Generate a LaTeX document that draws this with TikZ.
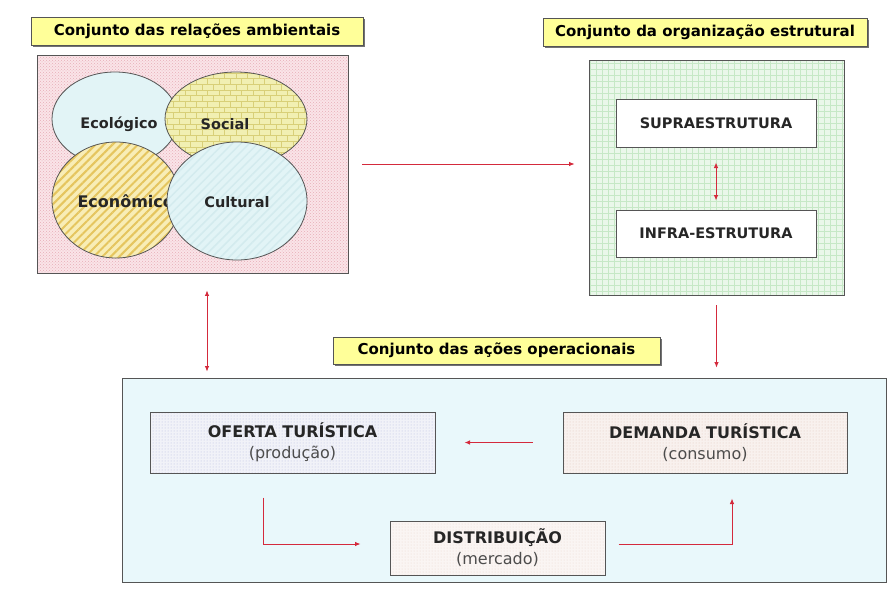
\documentclass[tikz,border=0pt]{standalone}
\usepackage{fontspec}
\setmainfont{DejaVu Sans}
\usetikzlibrary{positioning,shapes.geometric,arrows.meta,shadows,patterns,patterns.meta}
\definecolor{tyellow}{HTML}{FFFF99}
\definecolor{ambpink}{HTML}{FAE4E8}
\definecolor{ambdot}{HTML}{E7AEB8}
\definecolor{estgreen}{HTML}{EAF7EA}
\definecolor{gridgreen}{HTML}{C6E8C6}
\definecolor{opblue}{HTML}{E9F8FB}
\definecolor{ecocyan}{HTML}{E2F4F6}
\definecolor{socyel}{HTML}{F1EFB2}
\definecolor{brick}{HTML}{D8CF78}
\definecolor{econyel}{HTML}{F8EDB6}
\definecolor{stripe}{HTML}{E5C55E}
\definecolor{cultline}{HTML}{D3EBEE}
\definecolor{ofback}{HTML}{F1F2F8}
\definecolor{ofdot}{HTML}{B8BEE0}
\definecolor{dmback}{HTML}{F8F1EE}
\definecolor{dmdot}{HTML}{E2C6BC}
\definecolor{arrred}{HTML}{D42A3C}
\definecolor{edge}{HTML}{555555}

\begin{document}
\begin{tikzpicture}[x=1pt,y=-1pt,
  >={Latex[length=5.5pt,width=4.5pt]},
  title/.style={draw=edge, fill=tyellow, line width=0.8pt, inner sep=0pt,
    minimum height=28pt, font=\bfseries\fontsize{15}{18}\selectfont,
    drop shadow={shadow xshift=1.5pt, shadow yshift=-1.5pt, fill=black!55, opacity=1}},
  frame/.style={draw=edge, line width=0.8pt, inner sep=0pt},
  circ/.style={ellipse, draw=edge, line width=0.8pt, inner sep=0pt},
  lbl/.style={font=\bfseries\fontsize{14.5}{17}\selectfont, text=black!85},
  box/.style={draw=edge, line width=1pt, inner sep=0pt, text=black!85,
    font=\bfseries\fontsize{14.5}{17}\selectfont},
  opbox/.style={box, align=center, font=\fontsize{16}{21}\selectfont},
  link/.style={draw=arrred, line width=0.9pt}]

\fill[white] (0,0) rectangle (888,605);
\useasboundingbox (0,0) rectangle (888,605);

% relacoes ambientais
\node[title, minimum width=332pt] (tAmb) at (197,31) {Conjunto das relações ambientais};
\node[frame, preaction={fill=ambpink}, pattern=crosshatch dots, pattern color=ambdot,
  minimum width=311pt, minimum height=218pt] (amb) at (192.5,164) {};
\node[circ, fill=ecocyan, minimum width=126pt, minimum height=94pt] (eco) at (115,119) {};
\node[circ, preaction={fill=socyel}, pattern=bricks, pattern color=brick,
  minimum width=142pt, minimum height=94pt] (soc) at (236,119) {};
\node[lbl] (ecoT) at (119,124) {Ecológico};
\node[lbl] (socT) at (225,124) {Social};
\node[circ, preaction={fill=econyel}, pattern={Lines[angle=45,distance=6pt,line width=2pt]},
  pattern color=stripe, minimum width=128pt, minimum height=116pt] (econ) at (116,200) {};
\node[lbl, anchor=west, font=\bfseries\fontsize{16}{19}\selectfont] (econT) at (74,201) {Econômico};
\node[circ, preaction={fill=ecocyan}, pattern={Lines[angle=45,distance=6pt,line width=1.5pt]},
  pattern color=cultline, minimum width=140pt, minimum height=118pt] (cult) at (237,201) {};
\node[lbl] (cultT) at (237,202) {Cultural};

% organizacao estrutural
\node[title, minimum width=324pt] (tEst) at (705,32) {Conjunto da organização estrutural};
\node[frame, fill=estgreen, minimum width=255pt, minimum height=235pt,
  path picture={\draw[gridgreen, line width=0.4pt, step=6pt]
    (path picture bounding box.south west) grid (path picture bounding box.north east);}]
  (est) at (716.5,177.5) {};
\node[box, fill=white, minimum width=200pt, minimum height=48pt] (supra) at (716,123) {SUPRAESTRUTURA};
\node[box, fill=white, minimum width=200pt, minimum height=47pt, below=62pt of supra] (infra) {INFRA-ESTRUTURA};
\draw[link, <->, shorten <=15pt, shorten >=9pt] (supra) -- (infra);

% acoes operacionais
\node[title, minimum width=327pt, minimum height=27pt] (tOp) at (496.5,350.5) {Conjunto das ações operacionais};
\node[frame, fill=opblue, minimum width=764pt, minimum height=204pt] (op) at (504,480) {};
\node[opbox, preaction={fill=ofback}, pattern=dots, pattern color=ofdot,
  minimum width=285pt, minimum height=61pt] (oferta) at (292.5,442.5)
  {\textbf{OFERTA TURÍSTICA}\\{\color{black!70}(produção)}};
\node[opbox, preaction={fill=dmback}, pattern=dots, pattern color=dmdot,
  minimum width=284pt, minimum height=61pt, right=127pt of oferta] (demanda)
  {\textbf{DEMANDA TURÍSTICA}\\{\color{black!70}(consumo)}};
\node[opbox, preaction={fill=dmback!70}, pattern=dots, pattern color=dmdot!70,
  minimum width=215pt, minimum height=54pt] (dist) at (497.5,548)
  {\textbf{DISTRIBUIÇÃO}\\{\color{black!70}(mercado)}};

\draw[link, ->, shorten <=30pt, shorten >=29pt] (demanda.west) -- (oferta.east);
\draw[link, ->, shorten >=29pt] ([xshift=-29.5pt,yshift=-24pt]oferta.south) |- ([yshift=4pt]dist.west);
\draw[link, ->, shorten >=25pt] ([xshift=13pt,yshift=4pt]dist.east) -| ([xshift=27pt]demanda.south);

% ligacoes entre conjuntos
\draw[link, ->, shorten <=14pt, shorten >=14pt] (amb.east) -- (amb.east -| est.west);
\draw[link, <->, shorten <=17pt, shorten >=6pt] ([xshift=14.5pt]amb.south) -- ([xshift=14.5pt]amb.south |- op.north);
\draw[link, ->, shorten <=10pt, shorten >=10pt] (est.south) -- (est.south |- op.north);
\end{tikzpicture}
\end{document}
